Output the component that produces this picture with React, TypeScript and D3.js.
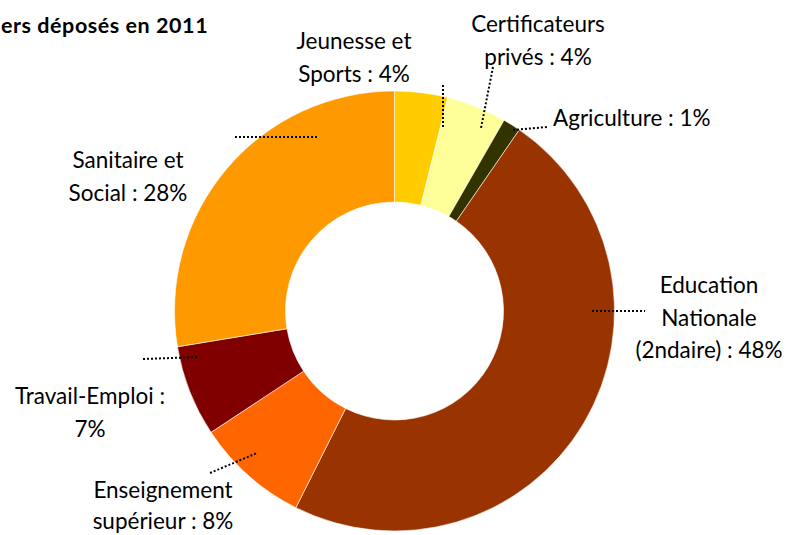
import React from "react";
import * as d3 from "d3";

const categories = [
  "Jeunesse et Sports",
  "Certificateurs privés",
  "Agriculture",
  "Education Nationale (2ndaire)",
  "Enseignement supérieur",
  "Travail-Emploi",
  "Sanitaire et Social",
];
const values = [3.9, 4.4, 1.3, 47.8, 8.3, 6.7, 27.6];
const labelLines = [
  ["Jeunesse et", "Sports : 4%"],
  ["Certificateurs", "privés : 4%"],
  ["Agriculture : 1%"],
  ["Education", "Nationale", "(2ndaire) : 48%"],
  ["Enseignement", "supérieur : 8%"],
  ["Travail-Emploi :", "7%"],
  ["Sanitaire et", "Social : 28%"],
];
const colors = ["#FFCC00", "#FFFF99", "#333300", "#993300", "#FF6600", "#800000", "#FF9900"];
const title = "ers déposés en 2011";

// layout (pixels)
const W = 787, H = 535;
const CX = 394.5, CY = 311, R_OUT = 220, R_IN = 109;
const labelPos: { x: number; y: number; anchor: string }[] = [
  { x: 354, y: 49, anchor: "middle" },
  { x: 538, y: 32, anchor: "middle" },
  { x: 553, y: 126, anchor: "start" },
  { x: 709, y: 293, anchor: "middle" },
  { x: 163, y: 498, anchor: "middle" },
  { x: 90, y: 404, anchor: "middle" },
  { x: 128, y: 168, anchor: "middle" },
];
const leaders: [number, number, number, number][] = [
  [443, 85, 443, 129],
  [493, 67, 481, 128],
  [513, 130, 547, 127],
  [592, 311, 645, 311],
  [210, 473, 257, 453],
  [143, 359, 199, 357],
  [235, 137, 318, 137],
];
const LINE_H = 32.5;

export default function App() {
  const pie = d3.pie<number>().sort(null).startAngle(0).endAngle(2 * Math.PI);
  const arcs = pie(values);
  const arc = d3.arc<d3.PieArcDatum<number>>().innerRadius(R_IN).outerRadius(R_OUT);
  const font = "Lato, 'Open Sans', sans-serif";
  return (
    <svg
      width={W}
      height={H}
      style={{ position: "absolute", left: 0, top: 0, background: "#fff" }}
    >
      <rect width={W} height={H} fill="#fff" />
      <text x={1} y={33} textAnchor="start" fontFamily={font} fontWeight="bold" fontSize={21.5} letterSpacing={0.55} fill="#000">
        {title}
      </text>
      <g transform={`translate(${CX},${CY})`}>
        {arcs.map((a, i) => (
          <path key={categories[i]} d={arc(a) || ""} fill={colors[i]} stroke="#fff" strokeWidth={0.6} />
        ))}
      </g>
      {leaders.map((l, i) => (
        <line
          key={"l" + i}
          x1={l[0]}
          y1={l[1]}
          x2={l[2]}
          y2={l[3]}
          stroke="#000"
          strokeWidth={2}
          strokeDasharray="2,2"
        />
      ))}
      {labelLines.map((lines, i) => (
        <text
          key={"t" + i}
          x={labelPos[i].x}
          y={labelPos[i].y}
          textAnchor={labelPos[i].anchor as any}
          fontFamily={font}
          fontSize={22.5}
          fill="#000"
        >
          {lines.map((s, j) => (
            <tspan key={j} x={labelPos[i].x} y={labelPos[i].y + j * (i === 4 ? 31 : LINE_H)}>
              {s}
            </tspan>
          ))}
        </text>
      ))}
    </svg>
  );
}
